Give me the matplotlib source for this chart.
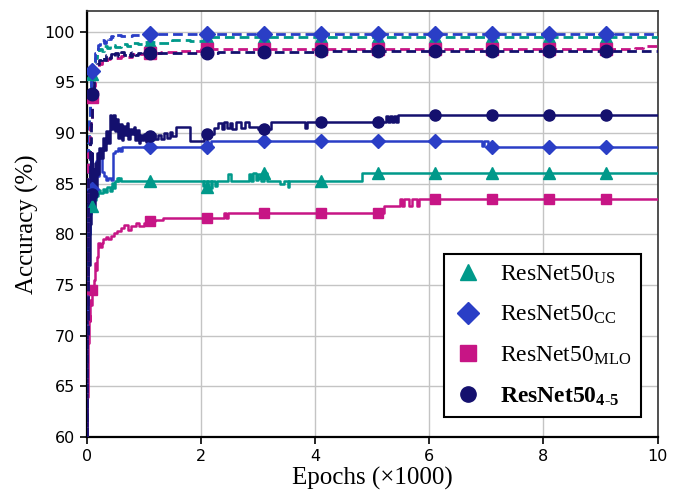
import numpy as np
import matplotlib
matplotlib.use("Agg")
import matplotlib.pyplot as plt
from matplotlib.lines import Line2D

# epochs are in thousands, accuracy in %
marker_x = [0.1, 1.1, 2.1, 3.1, 4.1, 5.1, 6.1, 7.1, 8.1, 9.1]

# ---- test curves (solid) ----
r45_test_x = [0, .005, .01, .02, .03, .04, .05, .06, .07, .08, .09, .10, .11, .12, .14, .16, .18, .20, .22, .25,
              .28, .31, .34, .37, .40, .43, .46, .49, .52, .55, .58, .61, .64, .67, .70, .73, .76, .79, .82, .85,
              .88, .91, .94, .97, 1.00, 1.04, 1.08, 1.12, 1.16, 1.20, 1.25, 1.30, 1.35, 1.40, 1.45, 1.50, 1.57, 1.80,
              2.05, 2.22, 2.30, 2.36, 2.40, 2.45, 2.50, 2.55, 2.62, 2.70, 2.78, 2.85, 3.00, 3.22, 3.82, 3.86,
              5.25, 5.28, 5.32, 5.35, 5.38, 5.42, 5.46, 10.0]
r45_test_y = [60, 66, 72, 79, 84.5, 77, 86, 81, 87.5, 83, 88, 84, 86.5, 82.5, 87, 84.5, 88, 86, 88.5, 87.5,
              89.5, 88.3, 90.2, 89, 91.8, 90.4, 91.8, 90.2, 91.4, 89.5, 90.9, 89.3, 90.7, 89.8, 91, 89.4, 90.4, 89.9, 90.6, 89.3,
              90.3, 89, 89.8, 89.3, 89.9, 89.1, 89.7, 89.3, 89.9, 89.4, 89.8, 89.4, 90.0, 89.5, 90.1, 89.7, 90.6, 89.2,
              89.9, 90.5, 91.0, 90.4, 91.1, 90.5, 91.0, 90.4, 91.1, 90.5, 91.1, 90.6, 90.4, 91.1, 90.5, 91.1,
              91.7, 91.1, 91.7, 91.1, 91.7, 91.1, 91.8, 91.8]

cc_test_x = [0, .01, .02, .03, .04, .05, .06, .07, .08, .09, .10, .12, .14, .16, .19, .22, .26, .30, .34, .38,
             .42, .46, .50, .54, .58, .62, 2.18, 6.93, 6.96, 7.03, 7.08, 10.0]
cc_test_y = [60, 70, 78, 83, 80, 84.5, 82, 86, 83.5, 87, 84.5, 86.5, 85, 87.2, 85.8, 87.5, 86.2, 85.8, 85.4, 85.6,
             85.4, 88.0, 88.2, 88.5, 88.2, 88.6, 89.2, 88.7, 89.2, 88.9, 88.6, 88.6]

us_test_x = [0, .01, .02, .03, .04, .05, .06, .07, .08, .09, .10, .12, .14, .16, .18, .20, .24, .28, .32, .36,
             .40, .44, .47, .50, .53, .55, .57, .60, 2.03, 2.06, 2.10, 2.13, 2.17, 2.20, 2.24, 2.28, 2.48, 2.52,
             2.85, 2.88, 2.92, 2.96, 3.00, 3.05, 3.10, 3.15, 3.38, 3.45, 3.52, 3.55, 4.82, 10.0]
us_test_y = [60, 70, 78, 82, 80, 83.5, 82.5, 84, 82.7, 83.8, 82.8, 84.2, 83.4, 84.5, 83.8, 84.4, 84.1, 84.5, 84.2, 84.7,
             84.3, 85.1, 84.6, 85.3, 85.6, 85.3, 85.6, 85.3, 84.8, 85.3, 84.7, 85.3, 84.6, 85.3, 84.8, 85.3, 86.0, 85.3,
             86.0, 85.3, 86.1, 85.4, 86.0, 85.3, 86.1, 85.3, 85.0, 85.3, 84.7, 85.3, 86.05, 86.05]

mlo_test_x = [0, .01, .02, .03, .04, .05, .06, .08, .10, .12, .14, .16, .18, .20, .23, .26, .29, .33, .37, .42,
              .48, .53, .60, .66, .72, .78, .86, .92, 1.00, 1.07, 1.20, 1.33, 2.40, 2.44, 2.47, 2.50, 5.20, 5.48,
              5.52, 5.56, 5.65, 5.69, 5.78, 5.82, 5.96, 10.0]
mlo_test_y = [60, 64, 67, 69.3, 72, 71.5, 73.5, 73, 74.5, 75.5, 77.2, 76.5, 77.8, 79.2, 78.8, 79.2, 79.5, 79.7, 79.5, 79.8,
              80.1, 80.3, 80.6, 80.9, 80.4, 80.8, 81.1, 80.8, 81.1, 81.3, 81.4, 81.6, 82.15, 81.6, 82.15, 82.15, 82.8, 83.5,
              82.8, 83.5, 82.8, 83.5, 82.8, 83.5, 83.5, 83.5]

# ---- train curves (dashed) ----
cc_train_x = [0, .01, .02, .03, .04, .05, .06, .07, .08, .10, .12, .14, .17, .20, .23, .26, .30, .34, .38, .42,
              .46, .50, .60, .80, 1.00, 10.0]
cc_train_y = [60, 75, 84, 89, 91.3, 93, 94.5, 95.2, 95.8, 96.1, 97, 97.9, 98.3, 98.7, 99.0, 99.2, 98.9, 99.4, 99.3, 99.6,
              99.5, 99.7, 99.6, 99.7, 99.75, 99.75]

us_train_x = [0, .01, .02, .03, .04, .05, .06, .08, .10, .12, .15, .18, .22, .26, .30, .35, .40, .50, .60, .70,
              .80, .90, 1.00, 1.20, 1.50, 1.80, 2.10, 10.0]
us_train_y = [60, 72, 82, 88, 91.5, 93.6, 94.3, 95, 95.8, 96.8, 97.4, 97.9, 98.3, 98.1, 98.6, 98.4, 98.7, 98.5, 98.8, 98.6,
              98.9, 98.8, 99.0, 98.9, 99.2, 99.1, 99.45, 99.45]

mlo_train_x = [0, .01, .02, .03, .05, .07, .10, .12, .15, .18, .22, .26, .30, .35, .40, .50, .60, .70, .80, 1.00,
               1.30, 1.60, 2.00, 9.60, 9.75, 10.0]
mlo_train_y = [60, 70, 80, 88, 90.6, 91.3, 93.6, 94.6, 96.0, 96.5, 96.8, 97.1, 97.0, 97.3, 97.5, 97.4, 97.6, 97.5, 97.8, 97.9,
               98.0, 98.1, 98.3, 98.4, 98.55, 98.55]

r45_train_x = [0, .01, .02, .03, .05, .07, .10, .12, .15, .18, .22, .26, .30, .34, .38, .42, .46, .50, .55, .60,
               .65, .70, .75, .80, .85, .90, .95, 1.00, 1.50, 2.30, 4.00, 10.0]
r45_train_y = [60, 70, 80, 86, 89, 91, 93.8, 95.2, 96.2, 96.8, 97.2, 97.5, 97.2, 97.7, 97.4, 97.8, 97.5, 97.9, 97.6, 98.0,
               97.7, 97.9, 97.6, 98.0, 97.7, 97.9, 97.7, 97.85, 97.85, 98.0, 98.05, 98.05]

labels = [r'ResNet50$_{\mathrm{US}}$', r'ResNet50$_{\mathrm{CC}}$', r'ResNet50$_{\mathrm{MLO}}$',
          r'ResNet50$_{\mathbf{4\text{-}5}}$']

TEAL = '#00998a'
BLUE = '#2a3ec6'
MAGENTA = '#c71585'
NAVY = '#14106e'

plt.rcParams['mathtext.fontset'] = 'custom'
plt.rcParams['mathtext.rm'] = 'Liberation Serif'
plt.rcParams['mathtext.it'] = 'Liberation Serif:italic'
plt.rcParams['mathtext.bf'] = 'Liberation Serif:bold'


def step_at(xs, ys, xm):
    xs = np.asarray(xs); ys = np.asarray(ys)
    idx = np.searchsorted(xs, xm, side='right') - 1
    return ys[np.clip(idx, 0, len(ys) - 1)]


fig = plt.figure(figsize=(6.78, 4.94), dpi=100)
ax = fig.add_axes([0.128, 0.115, 0.842, 0.862])

series = [
    (us_test_x, us_test_y, us_train_x, us_train_y, TEAL, '^', 8),
    (cc_test_x, cc_test_y, cc_train_x, cc_train_y, BLUE, 'D', 7.5),
    (mlo_test_x, mlo_test_y, mlo_train_x, mlo_train_y, MAGENTA, 's', 7),
    (r45_test_x, r45_test_y, r45_train_x, r45_train_y, NAVY, 'o', 8),
]

for tx, ty, trx, try_, col, mk, ms in series:
    ax.plot(tx, ty, drawstyle='steps-post', color=col, lw=1.8, zorder=3)
    ax.plot(marker_x, step_at(tx, ty, marker_x), linestyle='None', marker=mk, ms=ms, color=col, zorder=4)
for tx, ty, trx, try_, col, mk, ms in series:
    ax.plot(trx, try_, drawstyle='steps-post', color=col, lw=2.0, linestyle=(0, (3.5, 1.8)), zorder=5)
    ax.plot(marker_x, step_at(trx, try_, marker_x), linestyle='None', marker=mk, ms=ms + 1, color=col, zorder=6)

ax.set_xlim(0, 10)
ax.set_ylim(60, 102)
ax.set_xticks([0, 2, 4, 6, 8, 10])
ax.set_yticks([60, 65, 70, 75, 80, 85, 90, 95, 100])
ax.grid(True, color='#c4c4c4', lw=1.0)
ax.set_axisbelow(True)
ax.tick_params(direction='out', length=5, width=1.2, labelsize=11.5)
for s in ['left', 'bottom']:
    ax.spines[s].set_linewidth(1.6)
    ax.spines[s].set_color('black')
for s in ['top', 'right']:
    ax.spines[s].set_linewidth(1.2)
    ax.spines[s].set_color('#333333')

ax.set_xlabel('Epochs (×1000)', family='Liberation Serif', fontsize=18, labelpad=2)
ax.set_ylabel('Accuracy (%)', family='Liberation Serif', fontsize=18, labelpad=4)

handles = [Line2D([], [], linestyle='None', marker=mk, ms=11, color=col) for *_, col, mk, ms in series]
leg = ax.legend(handles, labels, loc='lower right', bbox_to_anchor=(0.970, 0.047), borderaxespad=0,
                prop={'family': 'Liberation Serif', 'size': 17}, fancybox=False, framealpha=1,
                edgecolor='black', handlelength=1.2, handletextpad=0.75, labelspacing=0.78, borderpad=0.4)
leg.get_frame().set_linewidth(1.5)
leg.get_texts()[3].set_fontweight('bold')
leg.set_zorder(10)

fig.savefig('out.png', dpi=100)
